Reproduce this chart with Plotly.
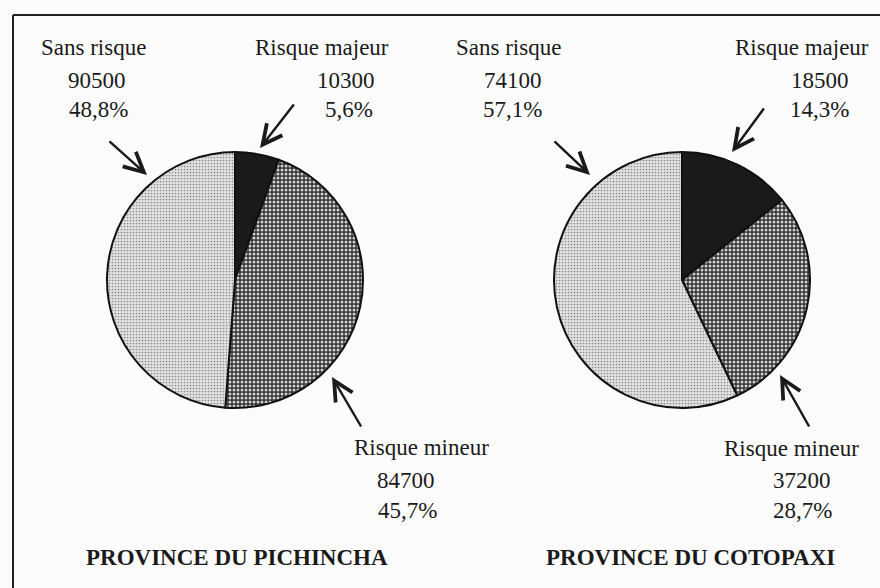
import plotly.graph_objects as go

W, H = 880, 588

categories = ["Risque majeur", "Risque mineur", "Sans risque"]
provinces = ["PROVINCE DU PICHINCHA", "PROVINCE DU COTOPAXI"]
pichincha_values = [10300, 84700, 90500]
pichincha_pct = ["5,6%", "45,7%", "48,8%"]
cotopaxi_values = [18500, 37200, 74100]
cotopaxi_pct = ["14,3%", "28,7%", "57,1%"]


def px(x):
    return x / W


def py(y):
    return 1 - y / H


fig = go.Figure()

patterns = dict(
    shape=["", ".", "."],
    fgcolor=["#1a1a1a", "#d0d0d0", "#8a8a8a"],
    bgcolor=["#1a1a1a", "#333333", "#e2e2e2"],
    size=[4, 4, 3],
    solidity=[0.5, 0.45, 0.25],
)

pies = [
    (pichincha_values, (107, 363, 152, 408)),
    (cotopaxi_values, (554, 810, 152, 408)),
]
for vals, (x0, x1, y0, y1) in pies:
    fig.add_trace(go.Pie(
        labels=categories, values=vals, sort=False, direction="clockwise",
        rotation=0, textinfo="none", hoverinfo="label+value+percent",
        marker=dict(colors=["#1a1a1a", "#4a4a4a", "#d6d6d6"],
                    line=dict(color="#111111", width=2),
                    pattern=patterns),
        domain=dict(x=[px(x0), px(x1)], y=[py(y1), py(y0)]),
        showlegend=False,
    ))

font = dict(family="Liberation Serif, Times New Roman, serif", size=23, color="#1a1a1a")

# label line positions (centre x, centre y) for name, value, percent
label_pos = {
    0: {  # Pichincha
        "Sans risque": [(93, 48), (97, 80), (98, 110)],
        "Risque majeur": [(322, 48), (346, 80), (349, 110)],
        "Risque mineur": [(421, 447), (406, 480), (407, 510)],
    },
    1: {  # Cotopaxi
        "Sans risque": [(509, 48), (513, 80), (512, 110)],
        "Risque majeur": [(802, 48), (820, 80), (819, 110)],
        "Risque mineur": [(791, 448), (802, 480), (802, 510)],
    },
}
data = [(pichincha_values, pichincha_pct), (cotopaxi_values, cotopaxi_pct)]

annotations = []
for i, (vals, pcts) in enumerate(data):
    for c, v, p in zip(categories, vals, pcts):
        texts = [c, str(v), p]
        for t, (x, y) in zip(texts, label_pos[i][c]):
            annotations.append(dict(x=px(x), y=py(y), xref="paper", yref="paper",
                                    text=t, showarrow=False, font=font,
                                    xanchor="center", yanchor="middle"))

title_pos = [(237, 557), (690, 557)]
for t, (x, y) in zip(provinces, title_pos):
    annotations.append(dict(x=px(x), y=py(y), xref="paper", yref="paper",
                            text="<b>" + t + "</b>", showarrow=False,
                            font=dict(family=font["family"], size=23, color="#1a1a1a"),
                            xanchor="center", yanchor="middle"))

# arrows: (head, tail) in pixels
arrows = [
    ((147, 175), (108, 140)),
    ((260, 148), (295, 103)),
    ((332, 377), (362, 428)),
    ((590, 175), (553, 140)),
    ((732, 152), (765, 107)),
    ((780, 375), (810, 428)),
]
for (hx, hy), (tx, ty) in arrows:
    annotations.append(dict(x=px(hx), y=py(hy), xref="paper", yref="paper",
                            ax=tx - hx, ay=ty - hy, axref="pixel", ayref="pixel",
                            text="", showarrow=True, arrowhead=5, arrowsize=1.6,
                            arrowwidth=2.4, arrowcolor="#1a1a1a"))

shapes = [
    dict(type="line", xref="paper", yref="paper", x0=px(13), x1=1, y0=py(15), y1=py(15),
         line=dict(color="#222222", width=2)),
    dict(type="line", xref="paper", yref="paper", x0=px(13), x1=px(13), y0=py(15), y1=0,
         line=dict(color="#222222", width=2)),
]

fig.update_layout(
    width=W, height=H,
    margin=dict(l=0, r=0, t=0, b=0),
    paper_bgcolor="#fcfcfc", plot_bgcolor="#fcfcfc",
    annotations=annotations, shapes=shapes,
)

fig.write_html("out.html", config={"displayModeBar": False},
               post_script="document.body.style.margin='0';document.body.style.overflow='hidden';")
